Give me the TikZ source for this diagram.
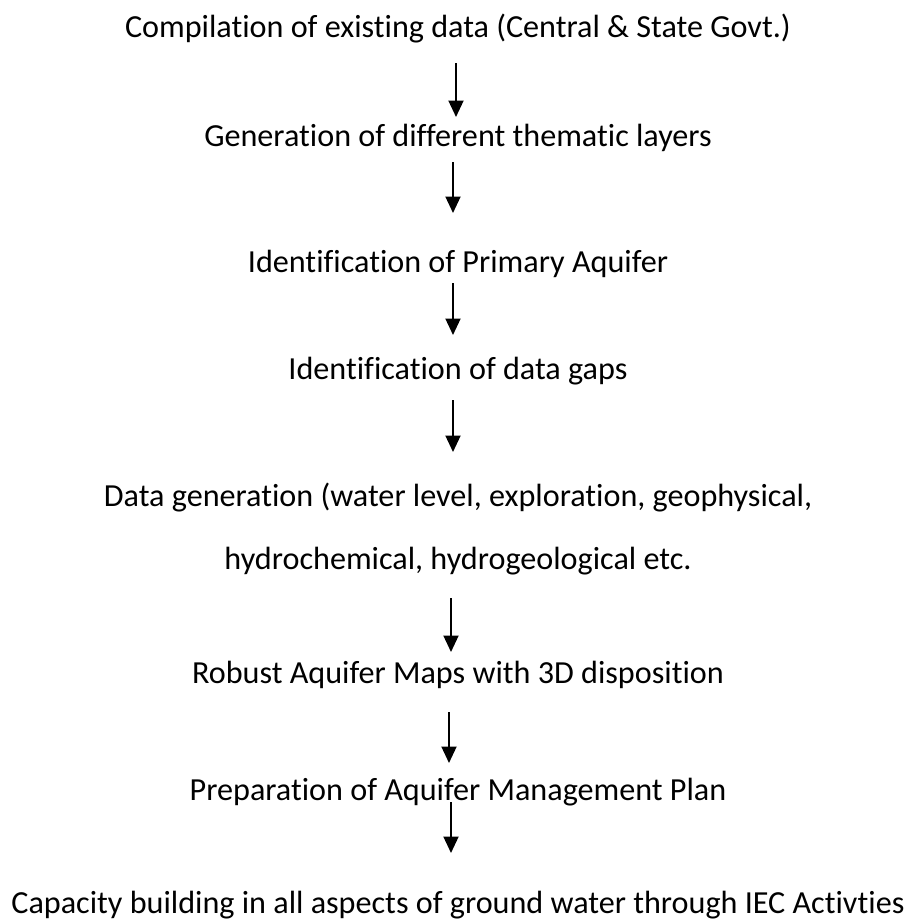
\documentclass[tikz,border=0pt]{standalone}
\usepackage{fontspec}
\setmainfont{Carlito}[Ligatures=NoCommon]
\usetikzlibrary{arrows.meta}
\tikzset{
  stage/.style={font=\fontsize{18.3}{22}\selectfont,anchor=base,inner sep=0pt},
  flow/.style={-{Triangle[length=3.3mm,width=3mm]},black,line width=1.1pt},
}
\begin{document}
\begin{tikzpicture}
  \useasboundingbox (0,0) rectangle (18.12,-18.38);
  \node[stage] (compile) at (9.16,-0.74) {Compilation of existing data (Central \& State Govt.)};
  \node[stage] (layers)  at (9.16,-2.92) {Generation of different thematic layers};
  \node[stage] (primary) at (9.16,-5.44) {Identification of Primary Aquifer};
  \node[stage] (gaps)    at (9.16,-7.58) {Identification of data gaps};
  \node[stage] (gen)     at (9.16,-10.12) {Data generation (water level, exploration, geophysical,};
  \node[stage] (genb)    at (9.16,-11.38) {hydrochemical, hydrogeological etc.};
  \node[stage] (maps)    at (9.16,-13.66) {Robust Aquifer Maps with 3D disposition};
  \node[stage] (plan)    at (9.16,-16.00) {Preparation of Aquifer Management Plan};
  \node[stage] (capac)   at (9.16,-18.26) {Capacity building in all aspects of ground water through IEC Activties};
  \draw[flow] ([xshift=-0.04cm,yshift=-0.52cm]compile.base) -- ([xshift=-0.04cm,yshift=0.58cm]layers.base);
  \draw[flow] ([xshift=-0.10cm,yshift=-0.32cm]layers.base) -- ([xshift=-0.10cm,yshift=1.18cm]primary.base);
  \draw[flow] ([xshift=-0.10cm,yshift=-0.22cm]primary.base) -- ([xshift=-0.10cm,yshift=0.88cm]gaps.base);
  \draw[flow] ([xshift=-0.10cm,yshift=-0.42cm]gaps.base) -- ([xshift=-0.10cm,yshift=1.08cm]gen.base);
  \draw[flow] ([xshift=-0.14cm,yshift=-0.58cm]genb.base) -- ([xshift=-0.14cm,yshift=0.62cm]maps.base);
  \draw[flow] ([xshift=-0.18cm,yshift=-0.58cm]maps.base) -- ([xshift=-0.18cm,yshift=0.74cm]plan.base);
  \draw[flow] ([xshift=-0.14cm,yshift=-0.04cm]plan.base) -- ([xshift=-0.14cm,yshift=1.20cm]capac.base);
\end{tikzpicture}
\end{document}
